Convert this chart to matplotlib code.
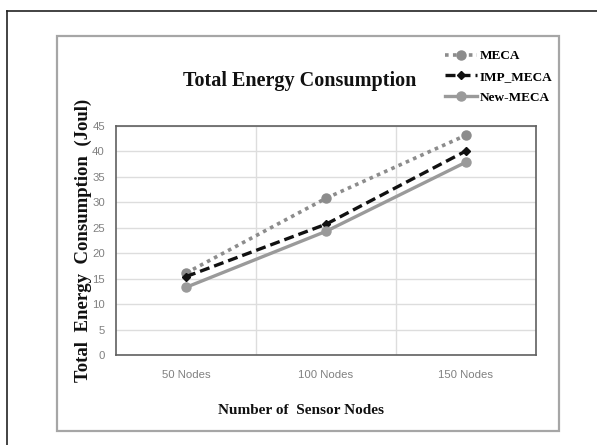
import numpy as np
import matplotlib.pyplot as plt
from matplotlib.patches import Rectangle
from matplotlib.lines import Line2D

# data
categories = ["50 Nodes", "100 Nodes", "150 Nodes"]
meca = [16.1, 30.8, 43.2]
imp_meca = [15.4, 25.7, 40.1]
new_meca = [13.3, 24.3, 37.9]
y_ticks = [0, 5, 10, 15, 20, 25, 30, 35, 40, 45]

serif = ["Liberation Serif", "DejaVu Serif"]
narrow = ["Liberation Sans Narrow", "Liberation Sans", "DejaVu Sans"]

fig = plt.figure(figsize=(5.97, 4.45), dpi=100)

# outer frame (only left and top visible) and inner chart box
fig.add_artist(Line2D([7/597, 7/597], [0, 1 - 11/445], transform=fig.transFigure,
                      color="#222222", lw=1.2))
fig.add_artist(Line2D([7/597, 1], [1 - 11/445, 1 - 11/445], transform=fig.transFigure,
                      color="#222222", lw=1.2))
fig.add_artist(Rectangle((57/597, 14/445), 502/597, 395/445, transform=fig.transFigure,
                         fill=False, edgecolor="#a6a6a6", lw=1.6))

ax = fig.add_axes([116/597, 90/445, 420/597, 229/445])
x = np.arange(len(categories))

ax.plot(x, meca, linestyle=(0, (1, 1.2)), color="#8c8c8c", lw=2.6,
        marker="o", ms=6.5, mfc="#8c8c8c", mec="#8c8c8c", label="MECA")
ax.plot(x, imp_meca, linestyle=(0, (3, 1.5)), color="#111111", lw=2.4,
        marker="D", ms=4, mfc="#111111", mec="#111111", label="IMP_MECA")
ax.plot(x, new_meca, linestyle="-", color="#9a9a9a", lw=2.4,
        marker="o", ms=6.5, mfc="#9a9a9a", mec="#9a9a9a", label="New-MECA")

ax.set_xlim(-0.5, 2.5)
ax.set_ylim(0, 45)
ax.set_yticks(y_ticks)
ax.set_xticks(x)
ax.set_xticklabels(categories)
ax.set_xticks([0.5, 1.5], minor=True)

ax.grid(axis="y", which="major", color="#dddddd", lw=1)
ax.grid(axis="x", which="minor", color="#dddddd", lw=1)
ax.set_axisbelow(True)

for s in ax.spines.values():
    s.set_color("#606060")
    s.set_linewidth(1.2)

ax.tick_params(axis="both", which="both", length=0, colors="#808080", labelsize=8.2)
ax.tick_params(axis="y", pad=8)
ax.tick_params(axis="x", pad=11)
for t in ax.get_xticklabels() + ax.get_yticklabels():
    t.set_family(narrow)

ax.set_ylabel("Total  Energy  Consumption  (Joul)", family=serif, fontweight="bold",
              fontsize=13.5, color="#111111")
ax.yaxis.set_label_coords(-24/420, 0.5)
ax.set_xlabel("Number of  Sensor Nodes", family=serif, fontweight="bold",
              fontsize=11, color="#111111")
ax.xaxis.set_label_coords(0.44, -0.215)

fig.text(300/597, 1 - 81/445, "Total Energy Consumption", family=serif,
         fontweight="bold", fontsize=14.5, ha="center", va="center", color="#111111")

leg = ax.legend(loc="upper right", bbox_to_anchor=(552/597, 1 - 50/445),
                bbox_transform=fig.transFigure, frameon=False,
                prop={"family": serif, "weight": "bold", "size": 9.5},
                handlelength=2.4, handletextpad=0.2, labelspacing=0.65,
                borderpad=0, borderaxespad=0)

fig.savefig("out.png", dpi=100)
